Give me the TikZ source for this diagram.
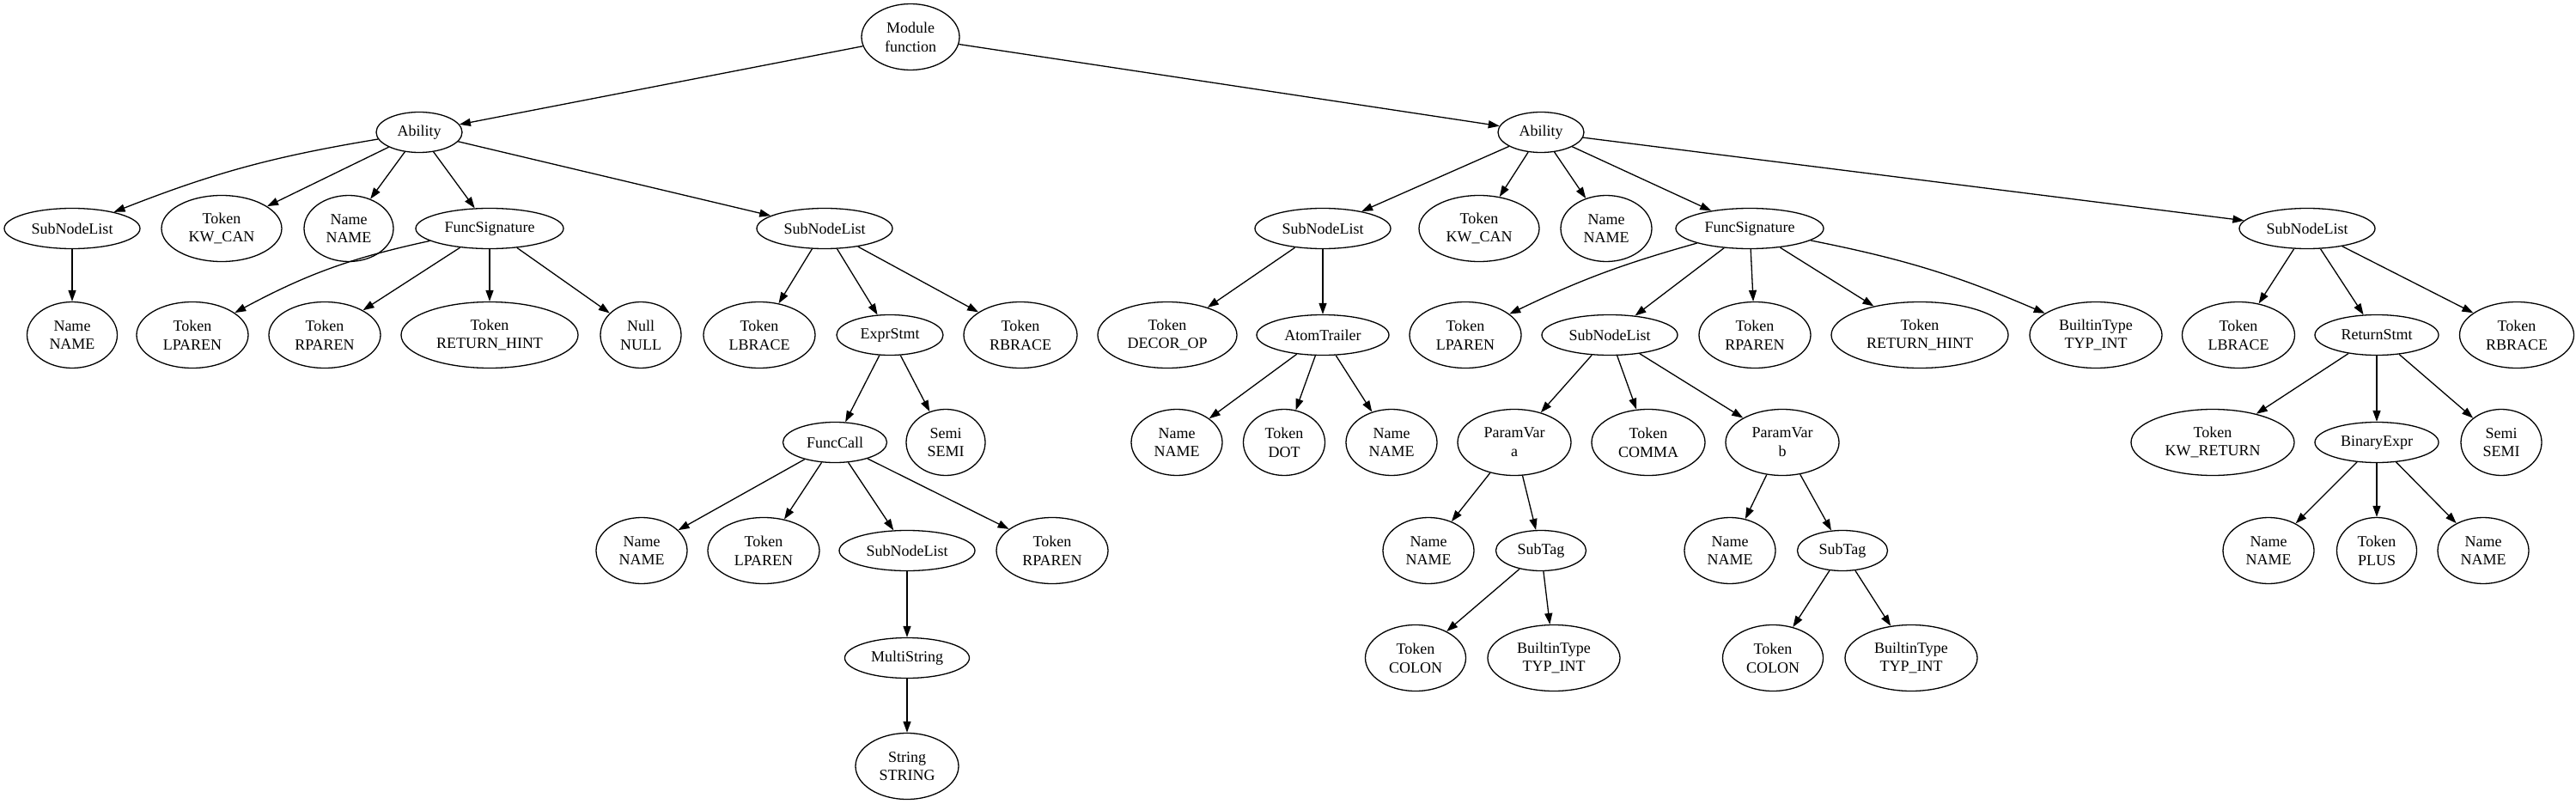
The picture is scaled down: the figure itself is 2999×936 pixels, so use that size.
\documentclass[tikz,border=0pt]{standalone}
\usepackage{fontspec}
\setmainfont{Liberation Serif}
\usetikzlibrary{shapes.geometric,arrows.meta}
\begin{document}
\begin{tikzpicture}[x=1pt,y=1pt,
  every node/.style={font=\fontsize{18}{21.7}\selectfont},
  n/.style={ellipse,draw,line width=1.3pt,inner sep=0pt,minimum width=#1pt,minimum height=47pt,align=center},
  m/.style={ellipse,draw,line width=1.3pt,inner sep=0pt,minimum width=#1pt,minimum height=77pt,align=center},
  e/.style={-{Triangle[length=13pt,width=9pt]},line width=1.3pt}]
\useasboundingbox (0,0) rectangle (2999,-936);
% level 0
\node[m=114] (m0) at (1060,-43) {Module\\function};
% level 1
\node[n=100] (a1) at (488,-154) {Ability};
\node[n=100] (a2) at (1794,-154) {Ability};
% level 2
\node[n=158] (l1) at (84,-266) {SubNodeList};
\node[m=140] (l2) at (258,-266) {Token\\KW\_CAN};
\node[m=104] (l3) at (406,-266) {Name\\NAME};
\node[n=172] (l4) at (570,-266) {FuncSignature};
\node[n=158] (l5) at (960,-266) {SubNodeList};
\node[n=158] (r1) at (1540,-266) {SubNodeList};
\node[m=140] (r2) at (1722,-266) {Token\\KW\_CAN};
\node[m=106] (r3) at (1870,-266) {Name\\NAME};
\node[n=172] (r4) at (2037,-266) {FuncSignature};
\node[n=158] (r5) at (2686,-266) {SubNodeList};
% level 3
\node[m=105] (l1a) at (84,-390) {Name\\NAME};
\node[m=130] (l4a) at (224,-390) {Token\\LPAREN};
\node[m=130] (l4b) at (378,-390) {Token\\RPAREN};
\node[m=206] (l4c) at (570,-390) {Token\\RETURN\_HINT};
\node[m=94] (l4d) at (746,-390) {Null\\NULL};
\node[m=130] (l5a) at (884,-390) {Token\\LBRACE};
\node[n=124] (l5b) at (1036,-390) {ExprStmt};
\node[m=132] (l5c) at (1188,-390) {Token\\RBRACE};
\node[m=162] (r1a) at (1359,-390) {Token\\DECOR\_OP};
\node[n=154] (r1b) at (1540,-390) {AtomTrailer};
\node[m=130] (r4a) at (1706,-390) {Token\\LPAREN};
\node[n=158] (r4b) at (1874,-390) {SubNodeList};
\node[m=130] (r4c) at (2043,-390) {Token\\RPAREN};
\node[m=206] (r4d) at (2235,-390) {Token\\RETURN\_HINT};
\node[m=154] (r4e) at (2440,-390) {BuiltinType\\TYP\_INT};
\node[m=131] (r5a) at (2606,-390) {Token\\LBRACE};
\node[n=144] (r5b) at (2767,-390) {ReturnStmt};
\node[m=133] (r5c) at (2930,-390) {Token\\RBRACE};
% level 4
\node[n=121] (l5b1) at (972,-515) {FuncCall};
\node[m=92] (l5b2) at (1101,-515) {Semi\\SEMI};
\node[m=106] (r1b1) at (1370,-515) {Name\\NAME};
\node[m=95] (r1b2) at (1495,-515) {Token\\DOT};
\node[m=106] (r1b3) at (1620,-515) {Name\\NAME};
\node[m=132] (r4b1) at (1763,-515) {ParamVar\\a};
\node[m=132] (r4b2) at (1919,-515) {Token\\COMMA};
\node[m=132] (r4b3) at (2075,-515) {ParamVar\\b};
\node[m=190] (r5b1) at (2576,-515) {Token\\KW\_RETURN};
\node[n=144] (r5b2) at (2767,-515) {BinaryExpr};
\node[m=94] (r5b3) at (2912,-515) {Semi\\SEMI};
% level 5
\node[m=106] (fc1) at (747,-641) {Name\\NAME};
\node[m=130] (fc2) at (889,-641) {Token\\LPAREN};
\node[n=158] (fc3) at (1056,-641) {SubNodeList};
\node[m=130] (fc4) at (1225,-641) {Token\\RPAREN};
\node[m=106] (pa1) at (1663,-641) {Name\\NAME};
\node[n=105] (pa2) at (1794,-641) {SubTag};
\node[m=106] (pb1) at (2014,-641) {Name\\NAME};
\node[n=105] (pb2) at (2145,-641) {SubTag};
\node[m=106] (be1) at (2641,-641) {Name\\NAME};
\node[m=93] (be2) at (2767,-641) {Token\\PLUS};
\node[m=106] (be3) at (2891,-641) {Name\\NAME};
% level 6
\node[n=145] (ms) at (1056,-766) {MultiString};
\node[m=117] (sa1) at (1648,-766) {Token\\COLON};
\node[m=154] (sa2) at (1809,-766) {BuiltinType\\TYP\_INT};
\node[m=117] (sb1) at (2064,-766) {Token\\COLON};
\node[m=154] (sb2) at (2225,-766) {BuiltinType\\TYP\_INT};
% level 7
\node[m=120] (str) at (1056,-892) {String\\STRING};
% edges
\draw[e] (m0) -- (a1);
\draw[e] (m0) -- (a2);
\draw[e] (a1) to[bend right=6] (l1);
\draw[e] (a1) -- (l2);
\draw[e] (a1) -- (l3);
\draw[e] (a1) -- (l4);
\draw[e] (a1) -- (l5);
\draw[e] (l1) -- (l1a);
\draw[e] (l4) to[bend right=8] (l4a);
\draw[e] (l4) -- (l4b);
\draw[e] (l4) -- (l4c);
\draw[e] (l4) -- (l4d);
\draw[e] (l5) -- (l5a);
\draw[e] (l5) -- (l5b);
\draw[e] (l5) -- (l5c);
\draw[e] (l5b) -- (l5b1);
\draw[e] (l5b) -- (l5b2);
\draw[e] (l5b1) -- (fc1);
\draw[e] (l5b1) -- (fc2);
\draw[e] (l5b1) -- (fc3);
\draw[e] (l5b1) -- (fc4);
\draw[e] (fc3) -- (ms);
\draw[e] (ms) -- (str);
\draw[e] (a2) -- (r1);
\draw[e] (a2) -- (r2);
\draw[e] (a2) -- (r3);
\draw[e] (a2) -- (r4);
\draw[e] (a2) -- (r5);
\draw[e] (r1) -- (r1a);
\draw[e] (r1) -- (r1b);
\draw[e] (r1b) -- (r1b1);
\draw[e] (r1b) -- (r1b2);
\draw[e] (r1b) -- (r1b3);
\draw[e] (r4) to[bend right=5] (r4a);
\draw[e] (r4) -- (r4b);
\draw[e] (r4) -- (r4c);
\draw[e] (r4) -- (r4d);
\draw[e] (r4) to[bend left=6] (r4e);
\draw[e] (r4b) -- (r4b1);
\draw[e] (r4b) -- (r4b2);
\draw[e] (r4b) -- (r4b3);
\draw[e] (r4b1) -- (pa1);
\draw[e] (r4b1) -- (pa2);
\draw[e] (pa2) -- (sa1);
\draw[e] (pa2) -- (sa2);
\draw[e] (r4b3) -- (pb1);
\draw[e] (r4b3) -- (pb2);
\draw[e] (pb2) -- (sb1);
\draw[e] (pb2) -- (sb2);
\draw[e] (r5) -- (r5a);
\draw[e] (r5) -- (r5b);
\draw[e] (r5) -- (r5c);
\draw[e] (r5b) -- (r5b1);
\draw[e] (r5b) -- (r5b2);
\draw[e] (r5b) -- (r5b3);
\draw[e] (r5b2) -- (be1);
\draw[e] (r5b2) -- (be2);
\draw[e] (r5b2) -- (be3);
\end{tikzpicture}
\end{document}
